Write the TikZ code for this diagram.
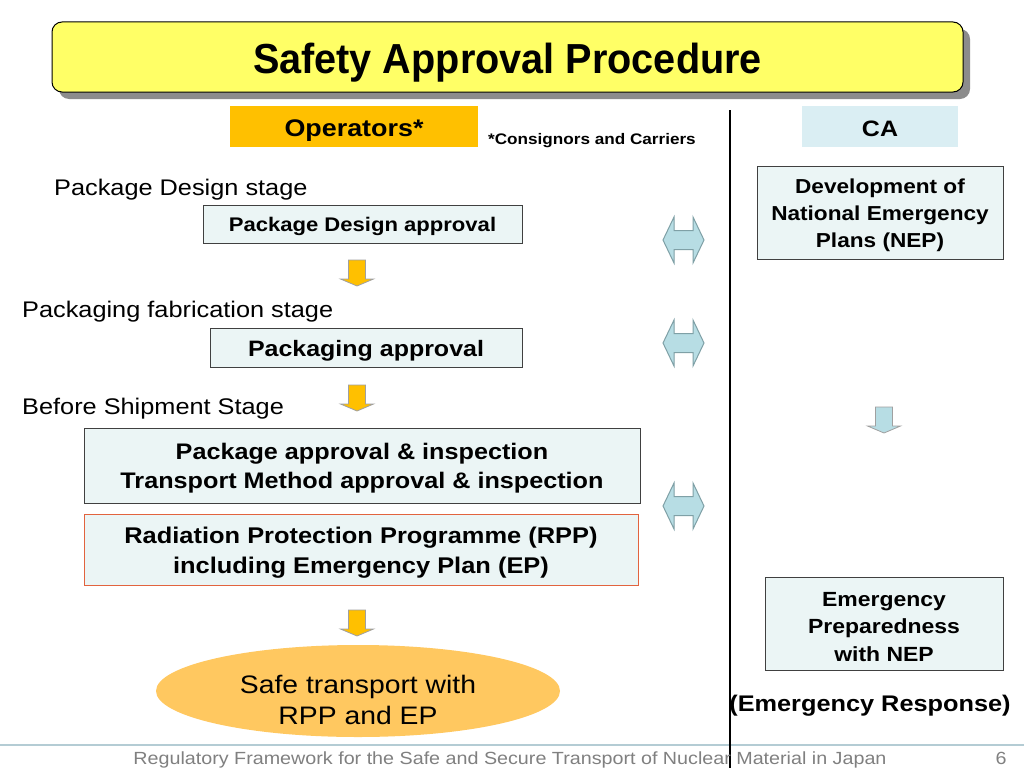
\documentclass[tikz,border=0pt]{standalone}
\usepackage{fontspec}
\setmainfont[FakeStretch=1.12]{Liberation Sans}
\newfontfamily\titlefont[FakeStretch=0.944]{Liberation Sans}
\usetikzlibrary{shadows,shapes.geometric}
\definecolor{titleyel}{HTML}{FFFF66}
\definecolor{opsorange}{HTML}{FFC000}
\definecolor{cablue}{HTML}{DAEEF3}
\definecolor{boxfill}{HTML}{EBF5F5}
\definecolor{boxline}{HTML}{404040}
\definecolor{rppline}{HTML}{E2633E}
\definecolor{ellfill}{HTML}{FFC860}
\definecolor{arrgray}{HTML}{A0A0A0}
\definecolor{dblfill}{HTML}{B7DDE4}
\definecolor{dblline}{HTML}{7FA0A6}
\definecolor{footline}{HTML}{B4CCD4}
\definecolor{foottext}{HTML}{808080}
\newcommand{\fs}[2]{\fontsize{#1}{#2}\selectfont}
\newcommand{\txtup}[1][1em]{\rule{0pt}{#1}}
\begin{document}
\begin{tikzpicture}[x=1pt,y=-1pt,
  titlebox/.style={draw=black, line width=1pt, fill=titleyel, rounded corners=10pt,
    drop shadow={shadow xshift=7pt, shadow yshift=-7pt, fill=gray!90, opacity=1},
    minimum width=911pt, minimum height=70pt, inner sep=0pt, font=\titlefont\bfseries\fs{42}{46}},
  headbox/.style={inner sep=0pt, minimum height=41pt, font=\bfseries\fs{22.3}{26}},
  stagetext/.style={anchor=west, inner sep=0pt, font=\fs{22.6}{26}},
  stepbox/.style={draw=boxline, line width=1pt, fill=boxfill, inner sep=0pt, align=center},
  downarr/.pic={\draw[pic actions] (-8.5,0) -- (8.5,0) -- (8.5,19) -- (16.5,19) -- (0,26) -- (-16.5,19) -- (-8.5,19) -- cycle;},
  dblarr/.pic={\draw[pic actions] (-20.5,0) -- (-9.5,-23) -- (-9.5,-9.5) -- (9.5,-9.5) -- (9.5,-23) -- (20.5,0) -- (9.5,23) -- (9.5,9.5) -- (-9.5,9.5) -- (-9.5,23) -- cycle;},
  ydown/.style={fill=opsorange, draw=arrgray, line width=0.8pt},
  bdown/.style={fill=dblfill, draw=arrgray, line width=0.8pt},
  dbl/.style={fill=dblfill, draw=dblline, line width=1pt}
]
\useasboundingbox (0,0) rectangle (1024,768);
\fill[white] (0,0) rectangle (1024,768);

% title
\node[titlebox] (title) at (507.5,57) {\txtup Safety Approval Procedure};

% headers
\node[headbox, fill=opsorange, minimum width=248pt, font=\bfseries\fs{24}{28}] (ops) at (354,126.5) {\txtup Operators*};
\node[anchor=west, inner sep=0pt, font=\bfseries\fs{15.3}{18}] (cons) at (488,141) {*Consignors and Carriers};
\node[headbox, fill=cablue, minimum width=156pt] (ca) at (880,126.5) {\txtup[0.9em]CA};

% footer line and divider
\draw[footline, line width=1.2pt] (0,745) coordinate (fl) -- (1024,745) coordinate (fr);
\draw[black, line width=2pt] (730,110) coordinate (vtop) -- (730,768) coordinate (vbot);

% left column
\node[stagetext] (st1) at (54,190) {Package Design stage};
\node[stepbox, minimum width=319pt, minimum height=38pt, font=\bfseries\fs{19.7}{24}] (pda) at (362.5,224) {\txtup Package Design approval};
\pic[ydown] at (357,260) {downarr};

\node[stagetext] (st2) at (22,312) {Packaging fabrication stage};
\node[stepbox, minimum width=312pt, minimum height=39pt, font=\bfseries\fs{22.3}{26}] (pa) at (366,347.5) {\txtup Packaging approval};
\pic[ydown] at (357,385) {downarr};

\node[stagetext] (st3) at (22,409) {Before Shipment Stage};
\node[stepbox, minimum width=556pt, minimum height=75pt, font=\bfseries\fs{22.5}{29}] (pai) at (362,465.5) {\txtup Package approval \& inspection\\Transport Method approval \& inspection};
\node[stepbox, draw=rppline, minimum width=554pt, minimum height=71pt, font=\bfseries\fs{22.7}{30}] (rpp) at (361,549.5) {\txtup Radiation Protection Programme (RPP)\\including Emergency Plan (EP)};
\pic[ydown] at (357,610) {downarr};

\node[ellipse, fill=ellfill, minimum width=404pt, minimum height=92pt, inner sep=0pt,
  label={[inner sep=0pt, align=center, font=\fs{25.3}{31}, yshift=-9pt]center:Safe transport with\\RPP and EP}] (safe) at (358,691) {};

% double arrows
\pic[dbl] at (683.5,240) {dblarr};
\pic[dbl] at (683.5,343) {dblarr};
\pic[dbl] at (683.5,506) {dblarr};

% right column
\node[stepbox, minimum width=246pt, minimum height=93pt, font=\bfseries\fs{20.2}{27}] (nep) at (880,212.5) {\txtup Development of\\National Emergency\\Plans (NEP)};
\pic[bdown] at (884,407) {downarr};
\node[stepbox, minimum width=238pt, minimum height=93pt, font=\bfseries\fs{20.5}{27.5}] (epn) at (884,623.5) {\txtup Emergency\\Preparedness\\with NEP};
\node[inner sep=0pt, font=\bfseries\fs{22.6}{26}] (er) at (870,706) {(Emergency Response)};

% footer
\node[inner sep=0pt, text=foottext, font=\fs{17.6}{20}] (foot) at (510,760) {Regulatory Framework for the Safe and Secure Transport of Nuclear Material in Japan};
\node[inner sep=0pt, text=foottext, font=\fs{17.6}{20}] (pg) at (1001,758) {6};
\end{tikzpicture}
\end{document}
